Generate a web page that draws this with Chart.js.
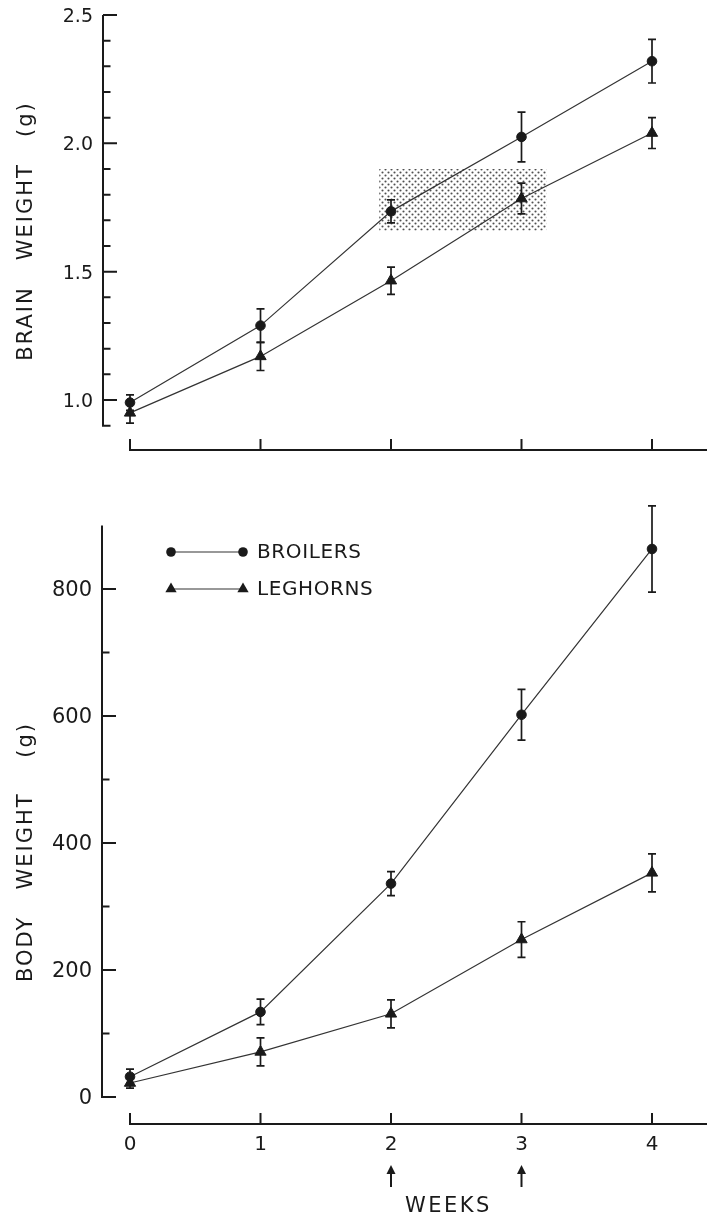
<!DOCTYPE html>
<html><head><meta charset="utf-8">
<script src="https://cdn.jsdelivr.net/npm/chart.js@4"></script>
<style>html,body{margin:0;padding:0;background:#fff;}canvas{display:block;}</style>
</head><body>
<canvas id="topChart" width="707" height="470"></canvas>
<canvas id="botChart" width="707" height="748"></canvas>
<script>
// ---------- DATA ----------
const weeks = [0, 1, 2, 3, 4];
const weekLabels = ['0', '1', '2', '3', '4'];
const arrowWeeks = [2, 3];

const brainBroilers    = [0.99, 1.29, 1.735, 2.025, 2.32];
const brainBroilersErr = [0.03, 0.065, 0.045, 0.097, 0.085];
const brainLeghorns    = [0.95, 1.17, 1.465, 1.785, 2.04];
const brainLeghornsErr = [0.04, 0.055, 0.053, 0.06, 0.06];

const bodyBroilers    = [32, 134, 336, 602, 863];
const bodyBroilersErr = [12, 20, 19, 40, 68];
const bodyLeghorns    = [22, 71, 131, 248, 353];
const bodyLeghornsErr = [8, 22, 22, 28, 30];

const brainTickValues = [0.9, 1.0, 1.1, 1.2, 1.3, 1.4, 1.5, 1.6, 1.7, 1.8, 1.9, 2.0, 2.1, 2.2, 2.3, 2.4, 2.5];
const brainLabelValues = [1.0, 1.5, 2.0, 2.5];
const brainLabels = ['1.0', '1.5', '2.0', '2.5'];

const bodyTickValues = [0, 100, 200, 300, 400, 500, 600, 700, 800];
const bodyLabelValues = [0, 200, 400, 600, 800];
const bodyLabels = ['0', '200', '400', '600', '800'];

const shadeWeeks = [1.91, 3.19];
const shadeBrain = [1.66, 1.90];

const seriesNames = ['BROILERS', 'LEGHORNS'];

// ---------- STYLE ----------
const INK = '#1a1a1a';
const LINE = '#333333';
const FONT = '"DejaVu Sans", sans-serif';

function pts(vals) { return weeks.map((w, i) => ({ x: w, y: vals[i] })); }

function ds(label, vals, style) {
  return {
    label, data: pts(vals), borderColor: LINE, borderWidth: 1.2,
    pointStyle: style, pointRadius: style === 'triangle' ? 6.5 : 4.8,
    pointBackgroundColor: INK, pointBorderColor: INK, pointBorderWidth: 1,
    tension: 0, clip: false, fill: false
  };
}

function makeDecor(cfg) {
  return {
    id: 'decor',
    beforeDatasetsDraw(chart) {
      const ctx = chart.ctx, xs = chart.scales.x, ys = chart.scales.y;
      if (cfg.shade) {
        const c = document.createElement('canvas'); c.width = 6; c.height = 6;
        const g = c.getContext('2d');
        g.fillStyle = '#fff'; g.fillRect(0, 0, 6, 6);
        g.fillStyle = '#505050';
        g.beginPath(); g.arc(1.5, 1.5, 1.05, 0, 7); g.fill();
        g.beginPath(); g.arc(4.5, 4.5, 1.05, 0, 7); g.fill();
        const pat = ctx.createPattern(c, 'repeat');
        const x0 = xs.getPixelForValue(cfg.shade.x[0]), x1 = xs.getPixelForValue(cfg.shade.x[1]);
        const y0 = ys.getPixelForValue(cfg.shade.y[1]), y1 = ys.getPixelForValue(cfg.shade.y[0]);
        ctx.save(); ctx.fillStyle = pat; ctx.fillRect(x0, y0, x1 - x0, y1 - y0); ctx.restore();
      }
    },
    afterDatasetsDraw(chart) {
      const ctx = chart.ctx, xs = chart.scales.x, ys = chart.scales.y;
      ctx.save(); ctx.strokeStyle = INK; ctx.lineWidth = 1.7;
      chart.data.datasets.forEach((d, di) => {
        const err = cfg.errors[di];
        d.data.forEach((p, i) => {
          const x = xs.getPixelForValue(p.x);
          const yt = ys.getPixelForValue(p.y + err[i]);
          const yb = ys.getPixelForValue(p.y - err[i]);
          ctx.beginPath();
          ctx.moveTo(x, yt); ctx.lineTo(x, yb);
          ctx.moveTo(x - 4, yt); ctx.lineTo(x + 4, yt);
          ctx.moveTo(x - 4, yb); ctx.lineTo(x + 4, yb);
          ctx.stroke();
        });
      });
      ctx.restore();
    },
    afterDraw(chart) {
      const ctx = chart.ctx, xs = chart.scales.x, ys = chart.scales.y, a = chart.chartArea;
      ctx.save();
      ctx.strokeStyle = INK; ctx.fillStyle = INK; ctx.lineWidth = 2; ctx.lineCap = 'butt';
      // y axis
      const ax = a.left + cfg.yAxisDx;
      ctx.beginPath();
      ctx.moveTo(ax, ys.getPixelForValue(ys.max)); ctx.lineTo(ax, ys.getPixelForValue(ys.min) + 1);
      cfg.yTicks.forEach(v => {
        const y = ys.getPixelForValue(v);
        const major = cfg.yLabelValues.some(m => Math.abs(m - v) < 1e-9);
        ctx.moveTo(ax, y); ctx.lineTo(ax + (major ? 14 : 7.5), y);
      });
      ctx.stroke();
      ctx.font = cfg.yFont; ctx.textAlign = 'right'; ctx.textBaseline = 'middle';
      cfg.yLabelValues.forEach((v, i) => {
        ctx.fillText(cfg.yLabels[i], ax - 10, ys.getPixelForValue(v) + 2);
      });
      // x axis
      const ay = a.bottom + cfg.xAxisDy;
      ctx.beginPath();
      ctx.moveTo(xs.getPixelForValue(weeks[0]) - 1, ay); ctx.lineTo(chart.width, ay);
      weeks.forEach(w => { const x = xs.getPixelForValue(w); ctx.moveTo(x, ay); ctx.lineTo(x, ay - 11); });
      ctx.stroke();
      if (cfg.xLabels) {
        ctx.font = '20px ' + FONT; ctx.textAlign = 'center'; ctx.textBaseline = 'middle';
        weeks.forEach((w, i) => ctx.fillText(weekLabels[i], xs.getPixelForValue(w), ay + 21));
        // arrows
        ctx.lineWidth = 2;
        arrowWeeks.forEach(w => {
          const x = xs.getPixelForValue(w), tip = ay + 41;
          ctx.beginPath(); ctx.moveTo(x, tip + 6); ctx.lineTo(x, tip + 22); ctx.stroke();
          ctx.beginPath(); ctx.moveTo(x, tip); ctx.lineTo(x - 4.5, tip + 9); ctx.lineTo(x + 4.5, tip + 9); ctx.closePath(); ctx.fill();
        });
        ctx.font = '21px ' + FONT; ctx.letterSpacing = '2.5px';
        ctx.fillText('WEEKS', xs.getPixelForValue(2.44), ay + 83);
        ctx.letterSpacing = '0px';
      }
      // y title
      ctx.save();
      ctx.translate(cfg.title.x, cfg.title.y); ctx.rotate(-Math.PI / 2);
      ctx.font = '21px ' + FONT; ctx.letterSpacing = '2px';
      ctx.textAlign = 'center'; ctx.textBaseline = 'middle';
      ctx.fillText(cfg.title.text, 0, 0);
      ctx.restore();
      // legend
      if (cfg.legend) {
        const L = cfg.legend;
        chart.data.datasets.forEach((d, i) => {
          const y = L.y + i * L.gap;
          ctx.strokeStyle = LINE; ctx.lineWidth = 1.2;
          ctx.beginPath(); ctx.moveTo(L.x0, y); ctx.lineTo(L.x1, y); ctx.stroke();
          ctx.fillStyle = INK;
          [L.x0, L.x1].forEach(x => {
            ctx.beginPath();
            if (d.pointStyle === 'triangle') {
              const r = d.pointRadius;
              ctx.moveTo(x, y - r); ctx.lineTo(x + r * 0.866, y + r * 0.5); ctx.lineTo(x - r * 0.866, y + r * 0.5); ctx.closePath();
            } else { ctx.arc(x, y, d.pointRadius, 0, Math.PI * 2); }
            ctx.fill();
          });
          ctx.font = '20px ' + FONT; ctx.letterSpacing = '0.6px';
          ctx.textAlign = 'left'; ctx.textBaseline = 'middle';
          ctx.fillText(seriesNames[i], L.x1 + 14, y + 1);
          ctx.letterSpacing = '0px';
        });
      }
      ctx.restore();
    }
  };
}

function baseOptions(ymin, ymax, pad) {
  return {
    responsive: false, animation: false, devicePixelRatio: 1,
    layout: { padding: pad },
    plugins: { legend: { display: false }, tooltip: { enabled: false }, title: { display: false } },
    scales: {
      x: { type: 'linear', min: 0, max: 4, display: false },
      y: { type: 'linear', min: ymin, max: ymax, display: false }
    }
  };
}

new Chart(document.getElementById('topChart'), {
  type: 'line',
  data: { datasets: [ds(seriesNames[0], brainBroilers, 'circle'), ds(seriesNames[1], brainLeghorns, 'triangle')] },
  options: baseOptions(0.9, 2.5, { left: 130, right: 55, top: 15, bottom: 44.3 }),
  plugins: [makeDecor({
    errors: [brainBroilersErr, brainLeghornsErr],
    shade: { x: shadeWeeks, y: shadeBrain },
    yAxisDx: -27, yTicks: brainTickValues, yLabelValues: brainLabelValues, yLabels: brainLabels,
    yFont: '19px ' + FONT, xAxisDy: 24.3, xLabels: false,
    title: { x: 27, y: 231, text: 'BRAIN   WEIGHT   (g)' }
  })]
});

new Chart(document.getElementById('botChart'), {
  type: 'line',
  data: { datasets: [ds(seriesNames[0], bodyBroilers, 'circle'), ds(seriesNames[1], bodyLeghorns, 'triangle')] },
  options: baseOptions(0, 900, { left: 130, right: 55, top: 55.5, bottom: 121 }),
  plugins: [makeDecor({
    errors: [bodyBroilersErr, bodyLeghornsErr],
    yAxisDx: -28, yTicks: bodyTickValues, yLabelValues: bodyLabelValues, yLabels: bodyLabels,
    yFont: '21px ' + FONT, xAxisDy: 27, xLabels: true,
    title: { x: 27, y: 382, text: 'BODY   WEIGHT    (g)' },
    legend: { x0: 171, x1: 243, y: 82, gap: 37 }
  })]
});
</script>
</body></html>
